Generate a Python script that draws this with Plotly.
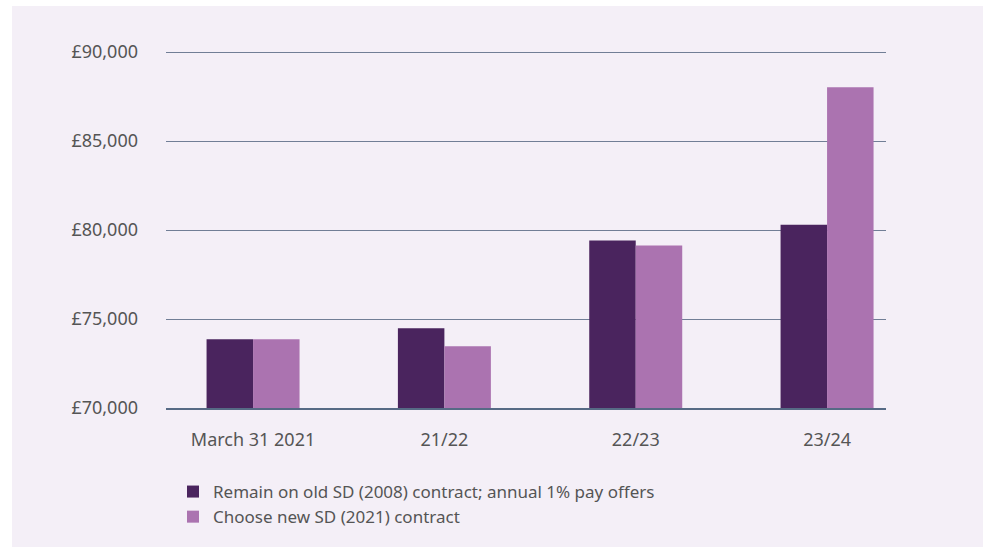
import plotly.graph_objects as go

categories = ["March 31 2021", "21/22", "22/23", "23/24"]
old_contract = [73870, 74480, 79410, 80300]
new_contract = [73870, 73470, 79130, 88030]
series_names = ["Remain on old SD (2008) contract; annual 1% pay offers",
                "Choose new SD (2021) contract"]
y_ticks = [70000, 75000, 80000, 85000, 90000]
y_tick_labels = ["£70,000", "£75,000", "£80,000", "£85,000", "£90,000"]

DARK = "#4a245e"
LIGHT = "#ab73b0"
BG = "#f4eff7"
FONT = dict(family="Noto Sans, Open Sans, sans-serif", size=17, color="#555555")
TICKFONT = dict(family="Noto Sans, Open Sans, sans-serif", size=18, color="#555555")

fig = go.Figure()
fig.add_trace(go.Bar(x=categories, y=old_contract, name=series_names[0],
                     marker=dict(color=DARK, line=dict(width=0))))
fig.add_trace(go.Bar(x=categories, y=new_contract, name=series_names[1],
                     marker=dict(color=LIGHT, line=dict(width=0))))

W, H = 983, 547
L, T = 166, 51
R = W - 886
B = H - 408
pw, ph = W - L - R, H - T - B

def px(x):
    return (x - L) / pw

def py(y):
    return (H - B - y) / ph

fig.add_shape(type="rect", xref="paper", yref="paper", layer="below",
              x0=px(12), x1=px(990), y0=py(560), y1=py(6),
              fillcolor=BG, line=dict(width=0))

fig.update_layout(
    width=W, height=H,
    margin=dict(l=L, r=R, t=T, b=B, pad=0),
    paper_bgcolor="white",
    plot_bgcolor="rgba(0,0,0,0)",
    font=FONT,
    barmode="group",
    bargap=0.514,
    bargroupgap=0,
    showlegend=True,
    legend=dict(x=px(173), y=py(474), xanchor="left", yanchor="top",
                bgcolor="rgba(0,0,0,0)", font=FONT, traceorder="normal",
                tracegroupgap=0, itemwidth=30),
    xaxis=dict(range=[-0.455, 3.308], showgrid=False, ticks="",
               showline=True, linecolor="#566a85", linewidth=1.5,
               tickfont=TICKFONT, ticklabelstandoff=15, fixedrange=True),
    yaxis=dict(range=[70000, 90060], tickvals=y_ticks, ticktext=y_tick_labels,
               showgrid=True, gridcolor="#717e96", gridwidth=1,
               zeroline=False, showline=False, ticks="",
               tickfont=TICKFONT, ticklabelstandoff=27, fixedrange=True),
)

fig.write_html("out.html", config={"displayModeBar": False},
               post_script="document.body.style.margin='0';"
                           "document.body.style.overflow='hidden';")
